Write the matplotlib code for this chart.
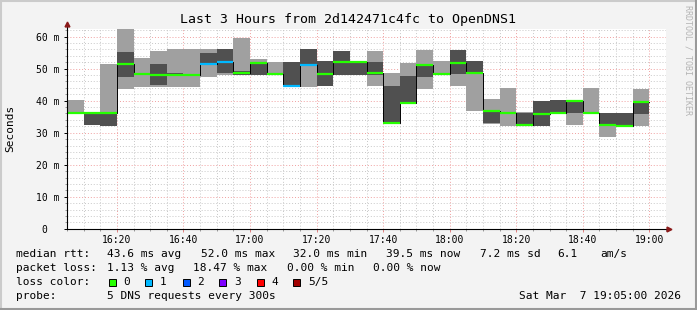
import numpy as np
import matplotlib
matplotlib.use("Agg")
from matplotlib import pyplot as plt
from matplotlib.lines import Line2D
from matplotlib.patches import Rectangle

W, H = 697, 310
MONO = "DejaVu Sans Mono"

# one 5 minute step per entry, start time of the step
times = ["16:05", "16:10", "16:15", "16:20", "16:25", "16:30", "16:35",
         "16:40", "16:45", "16:50", "16:55", "17:00", "17:05", "17:10",
         "17:15", "17:20", "17:25", "17:30", "17:35", "17:40", "17:45",
         "17:50", "17:55", "18:00", "18:05", "18:10", "18:15", "18:20",
         "18:25", "18:30", "18:35", "18:40", "18:45", "18:50", "18:55"]
# outer smoke (light), ms
light_lo = [36.2, 32.4, 32.1, 43.7, 44.2, 44.2, 44.2, 44.2, 47.4, 48.1,
            48.1, 48.1, 48.3, 44.6, 44.2, 44.6, 47.9, 48.1, 44.6, 33.1,
            39.4, 43.7, 48.0, 44.6, 36.9, 32.7, 32.1, 32.4, 32.1, 36.2,
            32.4, 36.2, 28.7, 32.1, 32.1]
light_hi = [40.1, 36.2, 51.5, 63.0, 53.3, 55.6, 56.1, 56.1, 56.1, 56.1,
            59.7, 53.0, 52.2, 52.0, 56.0, 52.4, 55.5, 52.1, 55.5, 48.7,
            51.9, 55.8, 52.4, 55.8, 52.4, 40.6, 44.0, 36.4, 40.0, 40.2,
            40.0, 44.0, 36.2, 36.0, 43.6]
# inner smoke (dark), ms
dark_lo = [36.2, 32.4, 32.1, 47.5, 48.3, 44.9, 47.9, 48.0, 51.7, 48.7,
           48.1, 48.1, 48.3, 44.6, 51.4, 44.6, 47.9, 48.1, 47.9, 33.1,
           39.4, 47.5, 48.3, 48.3, 48.3, 32.9, 36.2, 32.4, 32.1, 36.2,
           36.2, 36.2, 32.4, 32.1, 35.8]
dark_hi = [36.2, 36.2, 36.2, 55.3, 48.3, 51.5, 48.6, 48.0, 55.0, 56.1,
           49.2, 52.1, 48.3, 52.0, 56.0, 52.4, 55.5, 52.1, 52.1, 44.6,
           47.7, 51.1, 48.3, 55.8, 52.4, 37.1, 36.2, 36.2, 40.0, 40.2,
           40.0, 36.2, 36.2, 36.0, 40.0]
median = [36.2, 36.2, 36.2, 51.6, 48.3, 47.9, 47.9, 48.0, 51.6, 52.0,
          48.7, 51.9, 48.3, 44.6, 51.2, 48.3, 52.0, 52.0, 48.7, 33.1,
          39.4, 51.3, 48.3, 51.9, 48.7, 36.9, 36.2, 32.4, 35.9, 36.2,
          40.0, 36.2, 32.4, 32.1, 39.6]
loss = [0, 0, 0, 0, 0, 0, 0, 0, 1, 1, 0, 0, 0, 1, 1, 0, 0, 0, 0, 0,
        0, 0, 0, 0, 0, 0, 0, 0, 0, 0, 0, 0, 0, 0, 0]

loss_labels = ["0", "1", "2", "3", "4", "5/5"]
loss_colors = ["#26ff00", "#00b8ff", "#0059ff", "#7e00ff", "#ff0000", "#a10000"]

xtick_labels = ["16:20", "16:40", "17:00", "17:20", "17:40",
                "18:00", "18:20", "18:40", "19:00"]
ytick_vals = [0, 10, 20, 30, 40, 50, 60]


def minutes(hhmm):
    h, m = hhmm.split(":")
    return int(h) * 60 + int(m) - (16 * 60 + 5)


def fx(px):
    return px / W


def fy(py):
    return 1 - py / H


fig = plt.figure(figsize=(W / 100, H / 100), dpi=100, facecolor="#f3f3f3")
ax = fig.add_axes([fx(67), fy(228.7), (666 - 67) / W, 200 / H])
ax.set_facecolor("white")

x = np.array([minutes(t) for t in times])
ax.bar(x, np.subtract(light_hi, light_lo), bottom=light_lo, width=5,
       align="edge", color="#a0a0a0", lw=0, zorder=2)
ax.bar(x, np.subtract(dark_hi, dark_lo), bottom=dark_lo, width=5,
       align="edge", color="#505050", lw=0, zorder=3)

xs = np.append(x, x[-1] + 5)
ys = np.append(median, median[-1])
ax.step(xs, ys, where="post", color="black", lw=0.7, zorder=4)
ax.hlines(median, x, x + 5, colors=[loss_colors[l] for l in loss],
          lw=1.6, zorder=5)

ax.set_xlim(0, 180)
ax.set_ylim(0, 62.5)
ax.set_xticks([minutes(t) for t in xtick_labels])
ax.set_xticklabels(xtick_labels, fontfamily=MONO, fontsize=7)
ax.set_xticks(np.arange(0, 181, 5), minor=True)
ax.set_yticks(ytick_vals)
ax.set_yticklabels([("%d m" % v) if v else "0  " for v in ytick_vals],
                   fontfamily=MONO, fontsize=7)
ax.set_yticks(np.arange(0, 63, 2), minor=True)

ax.grid(which="minor", color="#c8c8c8", ls=(0, (1, 2)), lw=0.7, zorder=0)
ax.grid(which="major", color="#f0a0a0", ls=(0, (1, 2)), lw=0.7, zorder=1)
ax.tick_params(axis="x", which="major", length=2.5, width=0.7,
               color="#e08080", pad=2)
ax.tick_params(axis="x", which="minor", length=1.5, width=0.7, color="#999999")
ax.tick_params(axis="y", which="major", length=2.5, width=0.7,
               color="black", pad=3)
ax.tick_params(axis="y", which="minor", length=1.5, width=0.7, color="#999999")
for s in ax.spines.values():
    s.set_visible(False)

# axes with arrows
ax.plot([0, 0], [0, 64], color="black", lw=0.8, clip_on=False, zorder=6)
ax.plot([0, 181], [0, 0], color="black", lw=0.8, clip_on=False, zorder=6)
ax.plot([0], [64], marker="^", ms=3.5, color="#8b1a1a", clip_on=False, zorder=7)
ax.plot([181], [0], marker=">", ms=3.5, color="#8b1a1a", clip_on=False, zorder=7)

fig.text(fx(347.5), fy(19), "Last 3 Hours from 2d142471c4fc to OpenDNS1",
         fontfamily=MONO, fontsize=9.5, ha="center", va="center")
fig.text(fx(10.5), fy(128), "Seconds", fontfamily=MONO, fontsize=8,
         rotation=90, ha="center", va="center")
fig.text(fx(688), fy(60), "RRDTOOL / TOBI OETIKER", fontfamily=MONO,
         fontsize=6, rotation=270, ha="center", va="center", color="#b4b4b4")

LEG = 8
legend_rows = [
    (254, [(16, "median rtt:"), (107.3, "43.6 ms avg"), (200.7, "52.0 ms max"),
           (293.3, "32.0 ms min"), (386.3, "39.5 ms now"), (479.7, "7.2 ms sd"),
           (557.7, "6.1"), (600.3, "am/s")]),
    (268, [(16, "packet loss:"), (107.3, "1.13 % avg"), (192.7, "18.47 % max"),
           (286.7, "0.00 % min"), (372.7, "0.00 % now")]),
    (282, [(16, "loss color:")]),
    (296, [(16, "probe:"), (107.3, "5 DNS requests every 300s")]),
]
for py, items in legend_rows:
    for px, txt in items:
        fig.text(fx(px), fy(py), txt, fontfamily=MONO, fontsize=LEG,
                 ha="left", va="center")

box_x = [108.7, 145.3, 182.7, 219.3, 256.7, 293.3]
for bx, col, lab in zip(box_x, loss_colors, loss_labels):
    fig.add_artist(Rectangle((fx(bx), fy(285.5)), 7 / W, 7 / H, facecolor=col,
                             edgecolor="black", lw=0.7))
    fig.text(fx(bx + 14.5), fy(282), lab, fontfamily=MONO, fontsize=LEG,
             ha="left", va="center")

fig.text(fx(681), fy(296), "Sat Mar  7 19:05:00 2026", fontfamily=MONO,
         fontsize=LEG, ha="right", va="center")

# frame
fig.add_artist(Line2D([0, 1], [fy(1), fy(1)], color="#cbcbcb", lw=1.5))
fig.add_artist(Line2D([fx(1), fx(1)], [0, 1], color="#cbcbcb", lw=1.5))
fig.add_artist(Line2D([0, 1], [fy(309), fy(309)], color="#999999", lw=1.5))
fig.add_artist(Line2D([fx(696), fx(696)], [0, 1], color="#999999", lw=1.5))

fig.savefig("out.png", dpi=100, facecolor=fig.get_facecolor())
